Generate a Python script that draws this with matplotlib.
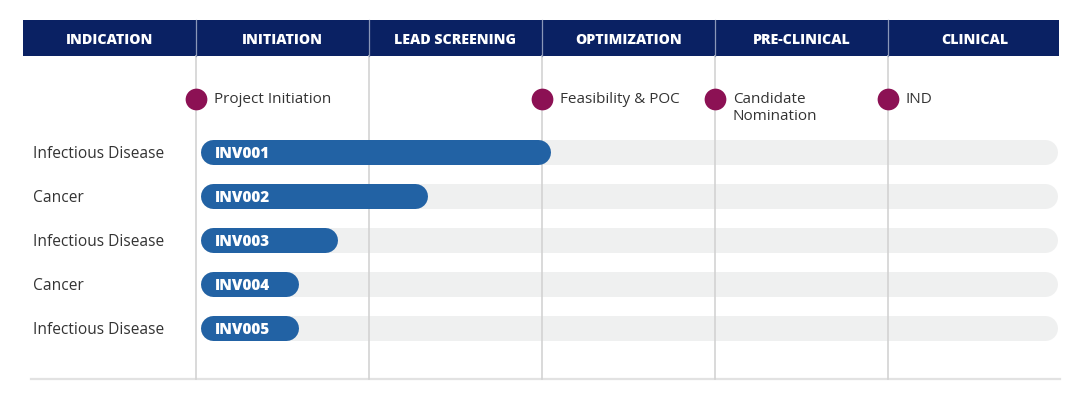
import matplotlib.pyplot as plt

plt.rcParams['font.family'] = ['Open Sans', 'DejaVu Sans']

# header columns
stages = ["INITIATION", "LEAD SCREENING", "OPTIMIZATION", "PRE-CLINICAL", "CLINICAL"]

# milestones (position in stage units, label)
milestone_pos = [0, 2, 3, 4]
milestone_labels = ["Project Initiation", "Feasibility & POC", "Candidate\nNomination", "IND"]

# programs
indications = ["Infectious Disease", "Cancer", "Infectious Disease", "Cancer", "Infectious Disease"]
programs = ["INV001", "INV002", "INV003", "INV004", "INV005"]
progress = [2.05, 1.34, 0.82, 0.59, 0.59]

navy = "#0a2163"
blue = "#2262a4"
maroon = "#8c1154"
track = "#eff0f0"
text_c = "#333333"

W, H, DPI = 1080, 418, 100
col_px = 173.0   # pixels per stage
x0_px = 196.0    # pixel of stage 0
row_px = 44.0
row0_px = 152.0

fig = plt.figure(figsize=(W / DPI, H / DPI), dpi=DPI)
ax = fig.add_axes([0, 0, 1, 1])
ax.set_xlim(-x0_px / col_px, (W - x0_px) / col_px)
ax.set_ylim((H - row0_px) / row_px, -row0_px / row_px)
ax.axis("off")

def px(v):
    return (v - x0_px) / col_px

def py(v):
    return (v - row0_px) / row_px

# header band
hdr_top, hdr_bot = py(20), py(55.5)
hdr_mid = py(39)
ax.fill_between([px(23), px(1059)], hdr_top, hdr_bot, color=navy, lw=0, zorder=2)
ax.text(px(23) / 2, hdr_mid, "INDICATION", color="white", fontsize=10.2,
        fontweight="heavy", ha="center", va="center_baseline", zorder=4)
for i, s in enumerate(stages):
    ax.text(i + 0.5, hdr_mid, s, color="white", fontsize=10.2, fontweight="heavy",
            ha="center", va="center_baseline", zorder=4)
    ax.plot([i, i], [hdr_top, hdr_bot], color="#8a97b8", lw=0.9, zorder=3)

# vertical grid lines
for i in range(5):
    ax.plot([i, i], [hdr_bot, py(379)], color="#d3d3d3", lw=1.2, zorder=2.5)

# bottom rule
ax.plot([px(31), px(1060)], [py(379), py(379)], color="#e2e2e2", lw=1.6, zorder=1)

# milestones, one text per line so the first line sits next to the dot
for p, lab in zip(milestone_pos, milestone_labels):
    ax.scatter([p], [py(99)], s=245, color=maroon, zorder=5, linewidths=0)
    for k, line in enumerate(lab.split("\n")):
        ax.text(p + 18 / col_px, py(103 + 17.5 * k), line, color=text_c, fontsize=11,
                ha="left", va="baseline", zorder=5)

# bars as round-capped thick lines
bar_pt = 25 * 72 / DPI
r = 12.5 / col_px
start = px(200)
end_track = px(1057)
for i, (ind, prog, val) in enumerate(zip(indications, programs, progress)):
    ax.plot([start + r, end_track - r], [i, i], color=track, lw=bar_pt,
            solid_capstyle="round", zorder=2)
    ax.plot([start + r, val - r], [i, i], color=blue, lw=bar_pt,
            solid_capstyle="round", zorder=3)
    ax.text(px(215), i, prog, color="white", fontsize=11, fontweight="heavy",
            ha="left", va="center_baseline", zorder=4)
    ax.text(px(33), i, ind, color=text_c, fontsize=11.2, ha="left",
            va="center_baseline", zorder=4)

fig.savefig("out.png", dpi=DPI)
